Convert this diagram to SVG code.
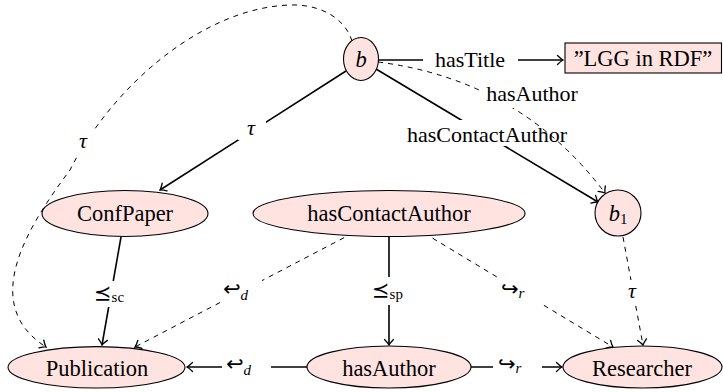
<svg xmlns="http://www.w3.org/2000/svg" width="723" height="392" viewBox="0 0 723 392">
<defs>
<marker id="ah" viewBox="-7 -6 9 12" markerWidth="9" markerHeight="12" refX="0" refY="0" orient="auto" markerUnits="userSpaceOnUse">
<path d="M-5.5,-4.5 Q-2,-1 0,0 Q-2,1 -5.5,4.5" fill="none" stroke="#000" stroke-width="1.3" stroke-linecap="round"/>
</marker>
<style>
.node{fill:#ffe3e0;stroke:#000;stroke-width:1.1}
.t{font-size:22.5px;text-anchor:middle}
.lab{font-size:22px;text-anchor:middle}
.m{font-size:21px}
.it{font-style:italic}
.sub{font-size:15px}
.solid{fill:none;stroke:#000;stroke-width:1.6;marker-end:url(#ah)}
.dash{fill:none;stroke:#000;stroke-width:1;stroke-dasharray:5 5;marker-end:url(#ah)}
.bg{fill:#fff}
</style>
</defs>
<g id="connectors">
  <line class="solid" x1="346" y1="71" x2="160" y2="190"/>
  <rect class="bg" x="238" y="118" width="28" height="22"/>
  <text class="lab it" x="251" y="135" font-family="Liberation Serif">τ</text>
  <line class="solid" x1="378" y1="60" x2="563" y2="60"/>
  <rect class="bg" x="423" y="46" width="95" height="28"/>
  <text class="lab" x="470" y="67" font-family="Liberation Serif">hasTitle</text>
  <line class="solid" x1="376" y1="69" x2="598" y2="202"/>
  <rect class="bg" x="398" y="120" width="180" height="26"/>
  <text class="lab" x="487" y="142" font-family="Liberation Serif">hasContactAuthor</text>
  <path class="dash" d="M378,62 Q520,80 605,193"/>
  <rect class="bg" x="480" y="83" width="104" height="25"/>
  <text class="lab" x="532" y="101" font-family="Liberation Serif">hasAuthor</text>
  <path class="dash" d="M352,41 C345,18 320,4 290,5 C200,8 110,90 70,170 C25,230 -20,305 46,347"/>
  <rect class="bg" x="72" y="130" width="22" height="24"/>
  <text class="lab it" x="83" y="148" font-family="Liberation Serif">τ</text>
  <line class="solid" x1="121" y1="237" x2="102" y2="345"/>
  <rect class="bg" x="93" y="281" width="35" height="26"/>
  <text class="m" x="94" y="300" font-family="DejaVu Sans">⪯<tspan class="sub" font-family="Liberation Serif" dy="2">sc</tspan></text>
  <line class="dash" x1="353" y1="233" x2="135" y2="347"/>
  <rect class="bg" x="220" y="278" width="42" height="27"/>
  <text class="m" x="223" y="296" font-family="DejaVu Sans">↩<tspan class="sub it" font-family="Liberation Serif" font-size="18" dy="4">d</tspan></text>
  <line class="solid" x1="389" y1="237" x2="389" y2="345"/>
  <rect class="bg" x="370" y="277" width="40" height="28"/>
  <text class="m" x="372" y="297" font-family="DejaVu Sans">⪯<tspan class="sub" font-family="Liberation Serif" dy="2">sp</tspan></text>
  <line class="dash" x1="424" y1="233" x2="613" y2="347"/>
  <rect class="bg" x="498" y="278" width="42" height="26"/>
  <text class="m" x="501" y="296" font-family="DejaVu Sans">↪<tspan class="sub it" font-family="Liberation Serif" font-size="18" dy="2">r</tspan></text>
  <line class="dash" x1="623" y1="237" x2="643" y2="345"/>
  <rect class="bg" x="621" y="280" width="22" height="24"/>
  <text class="lab it" x="632" y="298" font-family="Liberation Serif">τ</text>
  <line class="solid" x1="307" y1="367" x2="187" y2="367"/>
  <rect class="bg" x="222" y="353" width="49" height="28"/>
  <text class="m" x="226" y="371" font-family="DejaVu Sans">↩<tspan class="sub it" font-family="Liberation Serif" font-size="18" dy="4">d</tspan></text>
  <line class="solid" x1="471" y1="367" x2="562" y2="367"/>
  <rect class="bg" x="493" y="353" width="49" height="28"/>
  <text class="m" x="498" y="371" font-family="DejaVu Sans">↪<tspan class="sub it" font-family="Liberation Serif" font-size="18" dy="2">r</tspan></text>
</g>
<g id="node-b">
  <ellipse class="node" cx="361" cy="59" rx="17.5" ry="21.5"/>
  <text class="t it" x="361" y="67" font-family="Liberation Serif">b</text>
</g>
<g id="node-lgg">
  <rect class="node" x="565" y="43" width="156.5" height="30" stroke-width="1.5"/>
  <text class="t" x="643" y="66" font-family="Liberation Serif">”LGG in RDF”</text>
</g>
<g id="node-b1">
  <circle class="node" cx="618" cy="213" r="23"/>
  <text class="t" x="618" y="221" font-family="Liberation Serif"><tspan class="it">b</tspan><tspan font-size="15" dy="3">1</tspan></text>
</g>
<g id="node-confpaper">
  <ellipse class="node" cx="125" cy="213.5" rx="83" ry="23"/>
  <text class="t" x="125" y="221" font-family="Liberation Serif">ConfPaper</text>
</g>
<g id="node-hascontactauthor">
  <ellipse class="node" cx="389" cy="213.5" rx="136" ry="23"/>
  <text class="t" x="389" y="221" font-family="Liberation Serif">hasContactAuthor</text>
</g>
<g id="node-publication">
  <ellipse class="node" cx="96.5" cy="367.3" rx="88.5" ry="20.7"/>
  <text class="t" x="97" y="376" font-family="Liberation Serif">Publication</text>
</g>
<g id="node-hasauthor">
  <ellipse class="node" cx="389" cy="367" rx="82" ry="21"/>
  <text class="t" x="389" y="376" font-family="Liberation Serif">hasAuthor</text>
</g>
<g id="node-researcher">
  <ellipse class="node" cx="642.5" cy="367" rx="79.5" ry="21"/>
  <text class="t" x="642" y="376" font-family="Liberation Serif">Researcher</text>
</g>
</svg>
